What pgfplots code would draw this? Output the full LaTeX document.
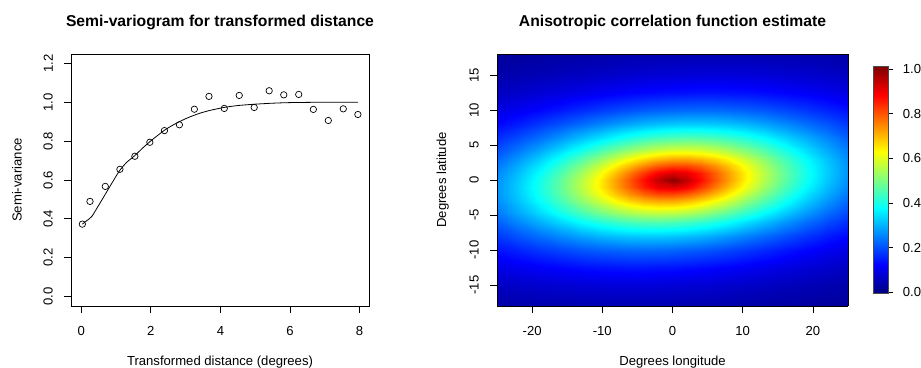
\documentclass[border=0pt]{standalone}
\usepackage{fontspec}
\setmainfont{Liberation Sans}
\usepackage{pgfplots}
\pgfplotsset{compat=1.18}
\newcommand\lbl{\fontsize{13.1bp}{15bp}\selectfont}
\newcommand\ttl{\fontsize{15.7bp}{18bp}\selectfont\bfseries}
\pgfplotsset{every axis title shift=0pt}
\begin{document}
\begin{tikzpicture}
\path[use as bounding box] (0,0) rectangle (921bp,368bp);
% ---------------- left panel ----------------
\begin{axis}[
  at={(71bp,62bp)}, anchor=south west, scale only axis,
  width=298bp, height=252bp,
  xmin=-0.296, xmax=8.27, ymin=-0.048, ymax=1.248,
  xtick={0,2,4,6,8}, xticklabels={0,2,4,6,8},
  ytick={0,0.2,0.4,0.6,0.8,1.0,1.2},
  yticklabels={0.0,0.2,0.4,0.6,0.8,1.0,1.2},
  xtick pos=left, ytick pos=left,
  tick align=outside, major tick length=7bp,
  tick style={black, line width=0.8bp},
  axis line style={line width=0.8bp},
  ticklabel style={font=\lbl, inner sep=0pt},
  xticklabel shift=13bp,
  yticklabel style={rotate=90, anchor=south},
  yticklabel shift=11bp,
  xlabel={Transformed distance (degrees)},
  ylabel={Semi-variance},
  label style={font=\lbl},
  xlabel style={at={(axis description cs:0.5,-0.221)}, anchor=center},
  ylabel style={at={(axis description cs:-0.181,0.5)}, anchor=center},
  title={Semi-variogram for transformed distance},
  title style={at={(axis description cs:0.5,1.124)}, anchor=center, yshift=0pt, font=\ttl},
]
\addplot[only marks, mark=o, mark size=3.2bp, mark options={line width=0.7bp, black}] coordinates {
(0.03,0.373) (0.25,0.490) (0.69,0.567) (1.11,0.655) (1.54,0.722) (1.97,0.794) (2.39,0.854) (2.82,0.884) (3.25,0.964) (3.67,1.030)
(4.11,0.968) (4.54,1.035) (4.97,0.973) (5.40,1.059) (5.82,1.038) (6.25,1.040) (6.67,0.963) (7.10,0.906) (7.53,0.966) (7.95,0.937)
};
\addplot[black, line width=0.8bp, smooth, tension=0.4, mark=none] coordinates {
(0.03,0.373) (0.15,0.390) (0.30,0.412) (0.50,0.470) (0.70,0.530) (0.90,0.590) (1.10,0.648) (1.30,0.690) (1.54,0.726) (1.75,0.762)
(1.97,0.797) (2.20,0.830) (2.40,0.857) (2.60,0.879) (2.83,0.901) (3.10,0.923) (3.40,0.943) (3.70,0.958) (4.10,0.973) (4.50,0.983)
(5.00,0.990) (5.50,0.995) (6.00,0.998) (7.00,1.000) (7.95,1.000)
};
\end{axis}
% ---------------- right panel ----------------
\begin{axis}[
  at={(497bp,62bp)}, anchor=south west, scale only axis,
  width=351bp, height=252bp,
  view={0}{90}, axis on top,
  xmin=-25, xmax=25, ymin=-18, ymax=18,
  enlargelimits=false,
  xtick={-20,-10,0,10,20}, xticklabels={-20,-10,0,10,20},
  ytick={-15,-10,-5,0,5,10,15}, yticklabels={-15,-10,-5,0,5,10,15},
  xtick pos=left, ytick pos=left,
  tick align=outside, major tick length=7bp,
  tick style={black, line width=0.8bp},
  axis line style={line width=0.8bp},
  ticklabel style={font=\lbl, inner sep=0pt},
  xticklabel shift=13bp,
  yticklabel style={rotate=90, anchor=south},
  yticklabel shift=11bp,
  xlabel={Degrees longitude},
  ylabel={Degrees latitude},
  label style={font=\lbl},
  xlabel style={at={(axis description cs:0.5,-0.221)}, anchor=center},
  ylabel style={at={(axis description cs:-0.1547,0.5)}, anchor=center},
  title={Anisotropic correlation function estimate},
  title style={at={(axis description cs:0.5,1.124)}, anchor=center, yshift=0pt, font=\ttl},
  colormap/jet,
  point meta min=-0.0045, point meta max=1.0103,
  colorbar,
  colorbar style={
    at={(parent axis.south east)}, anchor=south west,
    xshift=16.7bp, yshift=12.7bp,
    scale only axis, width=15bp, height=226.6bp,
    ytick={0,0.2,0.4,0.6,0.8,1.0},
    yticklabels={0.0,0.2,0.4,0.6,0.8,1.0},
    ytick pos=right, yticklabel pos=right,
    tick align=outside, major tick length=5bp,
    tick style={black, line width=0.8bp},
    axis line style={line width=0.7bp, black!70},
    yticklabel style={font=\lbl, inner sep=0pt, anchor=west, rotate=0},
    yticklabel shift=9.5bp,
  },
]
\addplot3[surf, shader=interp, mesh/cols=21] coordinates {
(-25,-18,0.036) (-22,-18,0.038) (-19,-18,0.041) (-16,-18,0.043) (-13,-18,0.044) (-10.5,-18,0.045) (-8,-18,0.045) (-6,-18,0.045) (-4,-18,0.045) (-2,-18,0.044) (0,-18,0.043) (2,-18,0.042) (4,-18,0.041) (6,-18,0.040) (8,-18,0.038) (10.5,-18,0.035) (13,-18,0.033) (16,-18,0.030) (19,-18,0.027) (22,-18,0.024) (25,-18,0.021)
(-25,-15,0.062) (-22,-15,0.068) (-19,-15,0.074) (-16,-15,0.078) (-13,-15,0.082) (-10.5,-15,0.084) (-8,-15,0.085) (-6,-15,0.085) (-4,-15,0.085) (-2,-15,0.084) (0,-15,0.082) (2,-15,0.080) (4,-15,0.078) (6,-15,0.075) (8,-15,0.071) (10.5,-15,0.067) (13,-15,0.062) (16,-15,0.056) (19,-15,0.050) (22,-15,0.044) (25,-15,0.038)
(-25,-12.5,0.095) (-22,-12.5,0.106) (-19,-12.5,0.116) (-16,-12.5,0.124) (-13,-12.5,0.132) (-10.5,-12.5,0.137) (-8,-12.5,0.139) (-6,-12.5,0.141) (-4,-12.5,0.141) (-2,-12.5,0.139) (0,-12.5,0.137) (2,-12.5,0.133) (4,-12.5,0.129) (6,-12.5,0.124) (8,-12.5,0.118) (10.5,-12.5,0.110) (13,-12.5,0.101) (16,-12.5,0.091) (19,-12.5,0.080) (22,-12.5,0.070) (25,-12.5,0.061)
(-25,-10,0.138) (-22,-10,0.156) (-19,-10,0.175) (-16,-10,0.191) (-13,-10,0.207) (-10.5,-10,0.216) (-8,-10,0.222) (-6,-10,0.226) (-4,-10,0.227) (-2,-10,0.226) (0,-10,0.222) (2,-10,0.217) (4,-10,0.210) (6,-10,0.201) (8,-10,0.191) (10.5,-10,0.177) (13,-10,0.162) (16,-10,0.143) (19,-10,0.125) (22,-10,0.108) (25,-10,0.093)
(-25,-8,0.178) (-22,-8,0.206) (-19,-8,0.233) (-16,-8,0.260) (-13,-8,0.285) (-10.5,-8,0.303) (-8,-8,0.316) (-6,-8,0.322) (-4,-8,0.325) (-2,-8,0.325) (0,-8,0.321) (2,-8,0.313) (4,-8,0.303) (6,-8,0.289) (8,-8,0.273) (10.5,-8,0.252) (13,-8,0.228) (16,-8,0.201) (19,-8,0.174) (22,-8,0.148) (25,-8,0.125)
(-25,-6,0.218) (-22,-6,0.257) (-19,-6,0.297) (-16,-6,0.337) (-13,-6,0.378) (-10.5,-6,0.408) (-8,-6,0.432) (-6,-6,0.447) (-4,-6,0.455) (-2,-6,0.457) (0,-6,0.452) (2,-6,0.441) (4,-6,0.425) (6,-6,0.404) (8,-6,0.379) (10.5,-6,0.346) (13,-6,0.313) (16,-6,0.271) (19,-6,0.232) (22,-6,0.197) (25,-6,0.165)
(-25,-4.5,0.245) (-22,-4.5,0.291) (-19,-4.5,0.341) (-16,-4.5,0.396) (-13,-4.5,0.451) (-10.5,-4.5,0.495) (-8,-4.5,0.532) (-6,-4.5,0.557) (-4,-4.5,0.573) (-2,-4.5,0.579) (0,-4.5,0.575) (2,-4.5,0.561) (4,-4.5,0.537) (6,-4.5,0.508) (8,-4.5,0.475) (10.5,-4.5,0.430) (13,-4.5,0.383) (16,-4.5,0.330) (19,-4.5,0.280) (22,-4.5,0.235) (25,-4.5,0.195)
(-25,-3,0.263) (-22,-3,0.316) (-19,-3,0.376) (-16,-3,0.443) (-13,-3,0.515) (-10.5,-3,0.576) (-8,-3,0.633) (-6,-3,0.673) (-4,-3,0.702) (-2,-3,0.717) (0,-3,0.716) (2,-3,0.697) (4,-3,0.665) (6,-3,0.624) (8,-3,0.578) (10.5,-3,0.516) (13,-3,0.456) (16,-3,0.388) (19,-3,0.326) (22,-3,0.272) (25,-3,0.224)
(-25,-2,0.269) (-22,-2,0.325) (-19,-2,0.390) (-16,-2,0.463) (-13,-2,0.545) (-10.5,-2,0.617) (-8,-2,0.689) (-6,-2,0.743) (-4,-2,0.788) (-2,-2,0.815) (0,-2,0.817) (2,-2,0.794) (4,-2,0.752) (6,-2,0.700) (8,-2,0.643) (10.5,-2,0.570) (13,-2,0.500) (16,-2,0.423) (19,-2,0.353) (22,-2,0.294) (25,-2,0.242)
(-25,-1,0.270) (-22,-1,0.327) (-19,-1,0.395) (-16,-1,0.472) (-13,-1,0.560) (-10.5,-1,0.640) (-8,-1,0.723) (-6,-1,0.791) (-4,-1,0.855) (-2,-1,0.905) (0,-1,0.919) (2,-1,0.888) (4,-1,0.830) (6,-1,0.764) (8,-1,0.696) (10.5,-1,0.613) (13,-1,0.534) (16,-1,0.450) (19,-1,0.375) (22,-1,0.311) (25,-1,0.256)
(-25,0,0.265) (-22,0,0.322) (-19,0,0.389) (-16,0,0.468) (-13,0,0.556) (-10.5,0,0.638) (-8,0,0.726) (-6,0,0.800) (-4,0,0.874) (-2,0,0.945) (0,0,1.000) (2,0,0.945) (4,0,0.874) (6,0,0.800) (8,0,0.726) (10.5,0,0.638) (13,0,0.556) (16,0,0.468) (19,0,0.389) (22,0,0.322) (25,0,0.265)
(-25,1,0.256) (-22,1,0.311) (-19,1,0.375) (-16,1,0.450) (-13,1,0.534) (-10.5,1,0.613) (-8,1,0.696) (-6,1,0.764) (-4,1,0.830) (-2,1,0.888) (0,1,0.919) (2,1,0.905) (4,1,0.855) (6,1,0.791) (8,1,0.723) (10.5,1,0.640) (13,1,0.560) (16,1,0.472) (19,1,0.395) (22,1,0.327) (25,1,0.270)
(-25,2,0.242) (-22,2,0.294) (-19,2,0.353) (-16,2,0.423) (-13,2,0.500) (-10.5,2,0.570) (-8,2,0.643) (-6,2,0.700) (-4,2,0.752) (-2,2,0.794) (0,2,0.817) (2,2,0.815) (4,2,0.788) (6,2,0.743) (8,2,0.689) (10.5,2,0.617) (13,2,0.545) (16,2,0.463) (19,2,0.390) (22,2,0.325) (25,2,0.269)
(-25,3,0.224) (-22,3,0.272) (-19,3,0.326) (-16,3,0.388) (-13,3,0.456) (-10.5,3,0.516) (-8,3,0.578) (-6,3,0.624) (-4,3,0.665) (-2,3,0.697) (0,3,0.716) (2,3,0.717) (4,3,0.702) (6,3,0.673) (8,3,0.633) (10.5,3,0.576) (13,3,0.515) (16,3,0.443) (19,3,0.376) (22,3,0.316) (25,3,0.263)
(-25,4.5,0.195) (-22,4.5,0.235) (-19,4.5,0.280) (-16,4.5,0.330) (-13,4.5,0.383) (-10.5,4.5,0.430) (-8,4.5,0.475) (-6,4.5,0.508) (-4,4.5,0.537) (-2,4.5,0.561) (0,4.5,0.575) (2,4.5,0.579) (4,4.5,0.573) (6,4.5,0.557) (8,4.5,0.532) (10.5,4.5,0.495) (13,4.5,0.451) (16,4.5,0.396) (19,4.5,0.341) (22,4.5,0.291) (25,4.5,0.245)
(-25,6,0.165) (-22,6,0.197) (-19,6,0.232) (-16,6,0.271) (-13,6,0.313) (-10.5,6,0.346) (-8,6,0.379) (-6,6,0.404) (-4,6,0.425) (-2,6,0.441) (0,6,0.452) (2,6,0.457) (4,6,0.455) (6,6,0.447) (8,6,0.432) (10.5,6,0.408) (13,6,0.378) (16,6,0.337) (19,6,0.297) (22,6,0.257) (25,6,0.218)
(-25,8,0.125) (-22,8,0.148) (-19,8,0.174) (-16,8,0.201) (-13,8,0.228) (-10.5,8,0.252) (-8,8,0.273) (-6,8,0.289) (-4,8,0.303) (-2,8,0.313) (0,8,0.321) (2,8,0.325) (4,8,0.325) (6,8,0.322) (8,8,0.316) (10.5,8,0.303) (13,8,0.285) (16,8,0.260) (19,8,0.233) (22,8,0.206) (25,8,0.178)
(-25,10,0.093) (-22,10,0.108) (-19,10,0.125) (-16,10,0.143) (-13,10,0.162) (-10.5,10,0.177) (-8,10,0.191) (-6,10,0.201) (-4,10,0.210) (-2,10,0.217) (0,10,0.222) (2,10,0.226) (4,10,0.227) (6,10,0.226) (8,10,0.222) (10.5,10,0.216) (13,10,0.207) (16,10,0.191) (19,10,0.175) (22,10,0.156) (25,10,0.138)
(-25,12.5,0.061) (-22,12.5,0.070) (-19,12.5,0.080) (-16,12.5,0.091) (-13,12.5,0.101) (-10.5,12.5,0.110) (-8,12.5,0.118) (-6,12.5,0.124) (-4,12.5,0.129) (-2,12.5,0.133) (0,12.5,0.137) (2,12.5,0.139) (4,12.5,0.141) (6,12.5,0.141) (8,12.5,0.139) (10.5,12.5,0.137) (13,12.5,0.132) (16,12.5,0.124) (19,12.5,0.116) (22,12.5,0.106) (25,12.5,0.095)
(-25,15,0.038) (-22,15,0.044) (-19,15,0.050) (-16,15,0.056) (-13,15,0.062) (-10.5,15,0.067) (-8,15,0.071) (-6,15,0.075) (-4,15,0.078) (-2,15,0.080) (0,15,0.082) (2,15,0.084) (4,15,0.085) (6,15,0.085) (8,15,0.085) (10.5,15,0.084) (13,15,0.082) (16,15,0.078) (19,15,0.074) (22,15,0.068) (25,15,0.062)
(-25,18,0.021) (-22,18,0.024) (-19,18,0.027) (-16,18,0.030) (-13,18,0.033) (-10.5,18,0.035) (-8,18,0.038) (-6,18,0.040) (-4,18,0.041) (-2,18,0.042) (0,18,0.043) (2,18,0.044) (4,18,0.045) (6,18,0.045) (8,18,0.045) (10.5,18,0.045) (13,18,0.044) (16,18,0.043) (19,18,0.041) (22,18,0.038) (25,18,0.036)
};
\end{axis}
\end{tikzpicture}
\end{document}
